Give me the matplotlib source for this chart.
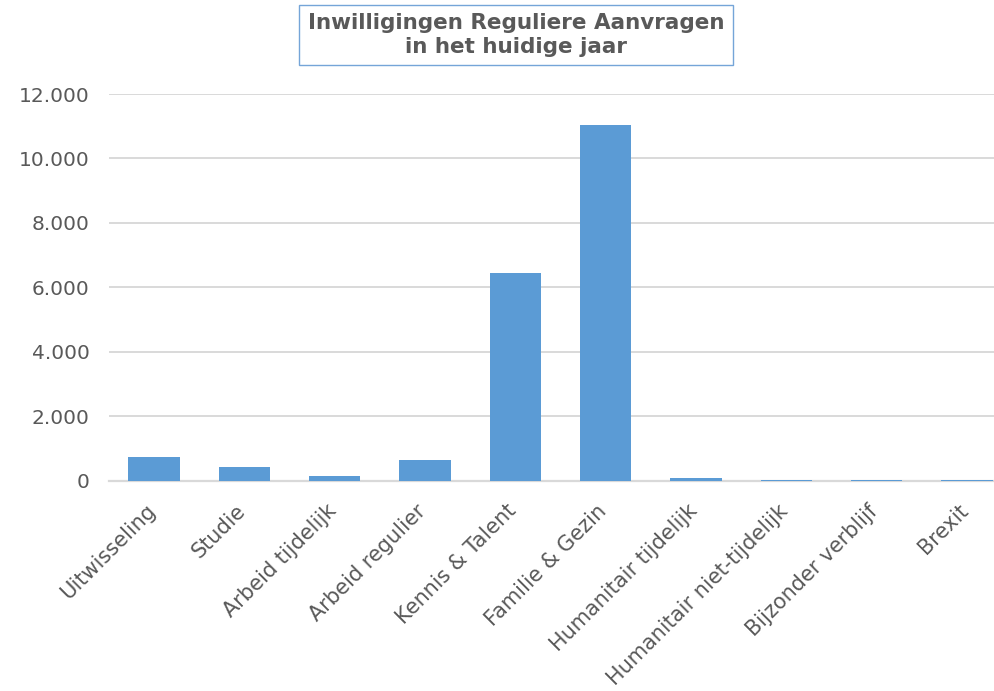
import matplotlib
matplotlib.use("Agg")
import matplotlib.pyplot as plt
from matplotlib.ticker import FuncFormatter
from matplotlib.patches import Rectangle
from matplotlib.transforms import ScaledTranslation

plt.rcParams['font.family'] = ['DejaVu Sans']

categories = ["Uitwisseling", "Studie", "Arbeid tijdelijk", "Arbeid regulier",
              "Kennis & Talent", "Familie & Gezin", "Humanitair tijdelijk",
              "Humanitair niet-tijdelijk", "Bijzonder verblijf", "Brexit"]
values = [730, 420, 140, 630, 6430, 11040, 70, 15, 25, 15]
yticks = [0, 2000, 4000, 6000, 8000, 10000, 12000]
title = "Inwilligingen Reguliere Aanvragen\nin het huidige jaar"

W, H = 994, 691
fig = plt.figure(figsize=(W / 100, H / 100), dpi=100)
left, right = 109, 1012
bottom, top = 480.5, 94
ax = fig.add_axes([left / W, (H - bottom) / H, (right - left) / W, (bottom - top) / H])

x = list(range(len(categories)))
ax.bar(x, values, width=0.57, color="#5b9bd5", zorder=3)
ax.set_xlim(-0.5, len(categories) - 0.5)
ax.set_ylim(0, 12000)
ax.set_yticks(yticks)
ax.yaxis.set_major_formatter(FuncFormatter(lambda v, p: f"{int(v):,}".replace(",", ".")))
ax.grid(axis="y", color="#d9d9d9", linewidth=1.4, zorder=0)
for s in ["top", "right", "left"]:
    ax.spines[s].set_visible(False)
ax.spines["bottom"].set_color("#d9d9d9")
ax.spines["bottom"].set_linewidth(1.6)
ax.tick_params(axis="y", length=0, pad=14, labelsize=14.5, labelcolor="#595959")
ax.tick_params(axis="x", length=0, pad=6, labelsize=15, labelcolor="#595959")
ax.set_xticks(x)
ax.set_xticklabels(categories, rotation=45, ha="right", rotation_mode="anchor")
off = ScaledTranslation(-9 / 100, -12 / 100, fig.dpi_scale_trans)
for lab in ax.get_xticklabels():
    lab.set_transform(lab.get_transform() + off)

fig.patches.append(Rectangle((299 / W, 1 - 65 / H), 434 / W, 60 / H,
                             transform=fig.transFigure, facecolor="white",
                             edgecolor="#75a5d8", linewidth=1, zorder=5))
fig.text(516 / W, 1 - 35 / H, title, ha="center", va="center", fontsize=15.5,
         fontweight="bold", color="#595959", linespacing=1.25, zorder=6)

fig.savefig("out.png", dpi=100)
